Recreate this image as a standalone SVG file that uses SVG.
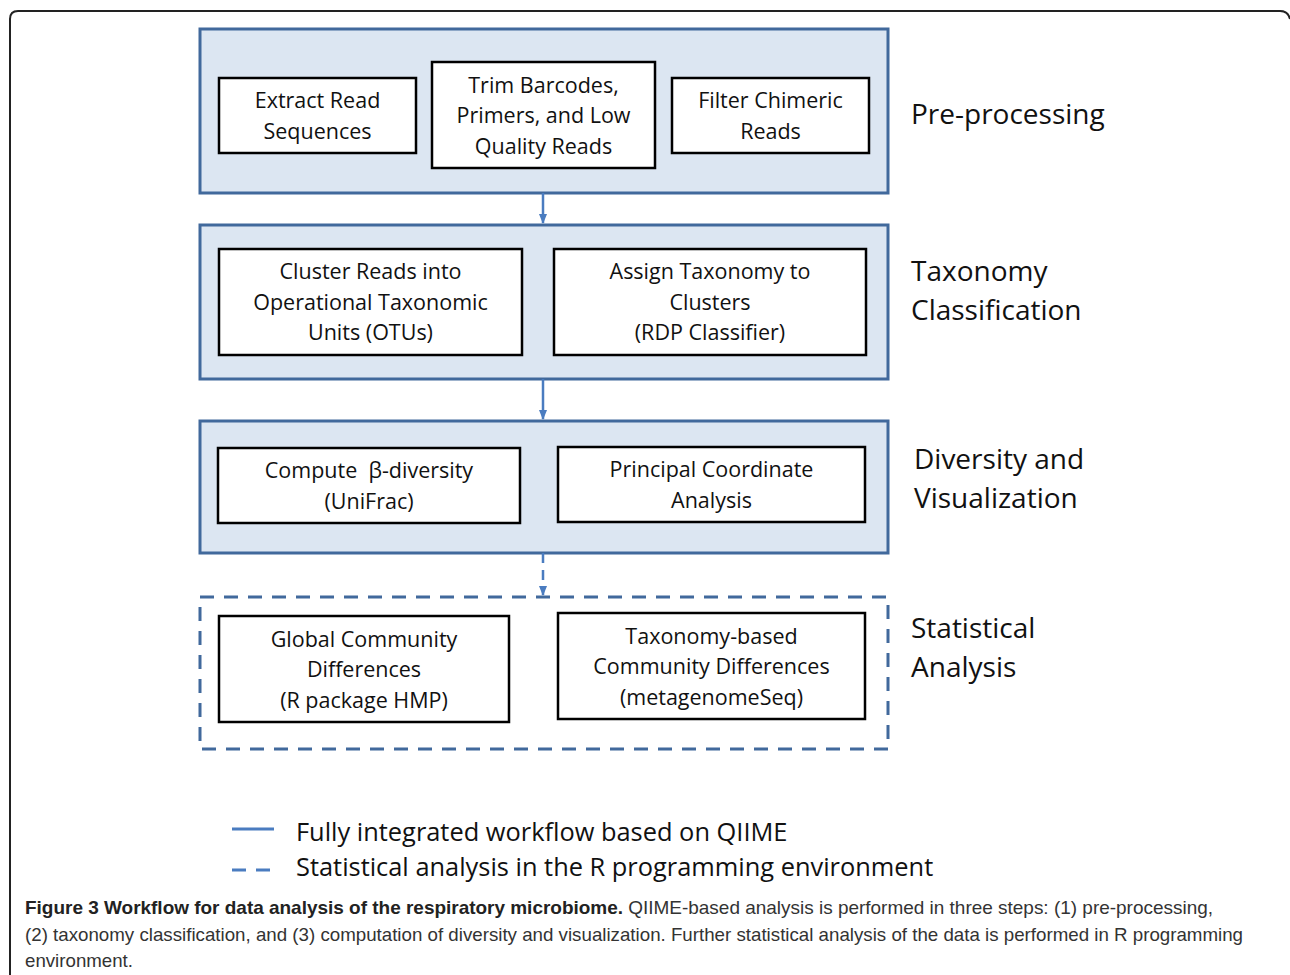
<svg xmlns="http://www.w3.org/2000/svg" width="1290" height="975" viewBox="0 0 1290 975">
<style>
.panel{fill:#dce6f2;stroke:#41699c;stroke-width:3}
.dpanel{fill:none;stroke:#41699c;stroke-width:3;stroke-dasharray:14 10}
.box{fill:#fff;stroke:#000;stroke-width:2.5}
.bt{font-family:"Open Sans","Liberation Sans",sans-serif;font-size:21.5px;fill:#111;text-anchor:middle}
.lab{font-family:"Open Sans","Liberation Sans",sans-serif;font-size:28px;fill:#111}
.leg{font-family:"Open Sans","Liberation Sans",sans-serif;font-size:25.4px;fill:#111}
.cap{font-family:"Liberation Sans",sans-serif;font-size:19px;fill:#333}
.conn{stroke:#4a7cc0;stroke-width:2.5;fill:none}
</style>
<defs>
<marker id="ah" markerWidth="10" markerHeight="8" refX="9" refY="4" orient="auto" markerUnits="userSpaceOnUse">
<path d="M0,0 L10,4 L0,8 Z" fill="#4a7cc0"/>
</marker>
</defs>
<rect x="0" y="0" width="1290" height="975" fill="#fff"/>
<path d="M10,990 L10,19 Q10,11 18,11 L1280,11 Q1288,11 1290,19" fill="none" stroke="#222" stroke-width="2"/>

<g id="panel-preprocessing">
<rect class="panel" x="200" y="29" width="688" height="164"/>
<text class="lab" x="911" y="124">Pre-processing</text>
</g>
<g id="node-extract">
<rect class="box" x="219" y="78" width="197" height="75"/>
<text class="bt" x="317.5" y="108">Extract Read</text>
<text class="bt" x="317.5" y="139">Sequences</text>
</g>
<g id="node-trim">
<rect class="box" x="432" y="62" width="223" height="106"/>
<text class="bt" x="543.5" y="93">Trim Barcodes,</text>
<text class="bt" x="543.5" y="123">Primers, and Low</text>
<text class="bt" x="543.5" y="154">Quality Reads</text>
</g>
<g id="node-filter">
<rect class="box" x="672" y="78" width="197" height="75"/>
<text class="bt" x="770.5" y="108">Filter Chimeric</text>
<text class="bt" x="770.5" y="139">Reads</text>
</g>

<g id="panel-taxonomy">
<rect class="panel" x="200" y="225" width="688" height="154"/>
<text class="lab" x="911" y="281">Taxonomy</text>
<text class="lab" x="911" y="320">Classification</text>
</g>
<g id="node-cluster">
<rect class="box" x="219" y="249" width="303" height="106"/>
<text class="bt" x="370.5" y="279">Cluster Reads into</text>
<text class="bt" x="370.5" y="310">Operational Taxonomic</text>
<text class="bt" x="370.5" y="340">Units (OTUs)</text>
</g>
<g id="node-assign">
<rect class="box" x="554" y="249" width="312" height="106"/>
<text class="bt" x="710" y="279">Assign Taxonomy to</text>
<text class="bt" x="710" y="310">Clusters</text>
<text class="bt" x="710" y="340">(RDP Classifier)</text>
</g>

<g id="panel-diversity">
<rect class="panel" x="200" y="421" width="688" height="132"/>
<text class="lab" x="914" y="469">Diversity and</text>
<text class="lab" x="914" y="508">Visualization</text>
</g>
<g id="node-compute">
<rect class="box" x="218" y="448" width="302" height="75"/>
<text class="bt" x="369" y="478" xml:space="preserve">Compute  β-diversity</text>
<text class="bt" x="369" y="509">(UniFrac)</text>
</g>
<g id="node-pcoa">
<rect class="box" x="558" y="447" width="307" height="75"/>
<text class="bt" x="711.5" y="477">Principal Coordinate</text>
<text class="bt" x="711.5" y="508">Analysis</text>
</g>

<g id="panel-statistical">
<rect class="dpanel" x="200" y="597" width="688" height="152"/>
<text class="lab" x="911" y="638">Statistical</text>
<text class="lab" x="911" y="677">Analysis</text>
</g>
<g id="node-global">
<rect class="box" x="219" y="616" width="290" height="106"/>
<text class="bt" x="364" y="647">Global Community</text>
<text class="bt" x="364" y="677">Differences</text>
<text class="bt" x="364" y="708">(R package HMP)</text>
</g>
<g id="node-taxbased">
<rect class="box" x="558" y="613" width="307" height="106"/>
<text class="bt" x="711.5" y="644">Taxonomy-based</text>
<text class="bt" x="711.5" y="674">Community Differences</text>
<text class="bt" x="711.5" y="705">(metagenomeSeq)</text>
</g>

<g id="connectors">
<line class="conn" x1="543" y1="193" x2="543" y2="223" marker-end="url(#ah)"/>
<line class="conn" x1="543" y1="379" x2="543" y2="419" marker-end="url(#ah)"/>
<line class="conn" x1="543" y1="553" x2="543" y2="595" stroke-dasharray="10 7" marker-end="url(#ah)"/>
</g>

<g id="legend">
<line x1="232" y1="829" x2="274" y2="829" stroke="#4a7cc0" stroke-width="3"/>
<text class="leg" x="296" y="841">Fully integrated workflow based on QIIME</text>
<line x1="232" y1="870" x2="274" y2="870" stroke="#4a7cc0" stroke-width="3" stroke-dasharray="14 10"/>
<text class="leg" x="296" y="876">Statistical analysis in the R programming environment</text>
</g>

<g id="caption">
<text class="cap" x="25" y="914" textLength="1188" lengthAdjust="spacingAndGlyphs"><tspan font-weight="bold" fill="#222">Figure 3 Workflow for data analysis of the respiratory microbiome.</tspan> QIIME-based analysis is performed in three steps: (1) pre-processing,</text>
<text class="cap" x="25" y="941" textLength="1218" lengthAdjust="spacingAndGlyphs">(2) taxonomy classification, and (3) computation of diversity and visualization. Further statistical analysis of the data is performed in R programming</text>
<text class="cap" x="25" y="967" textLength="108" lengthAdjust="spacingAndGlyphs">environment.</text>
</g>
</svg>
